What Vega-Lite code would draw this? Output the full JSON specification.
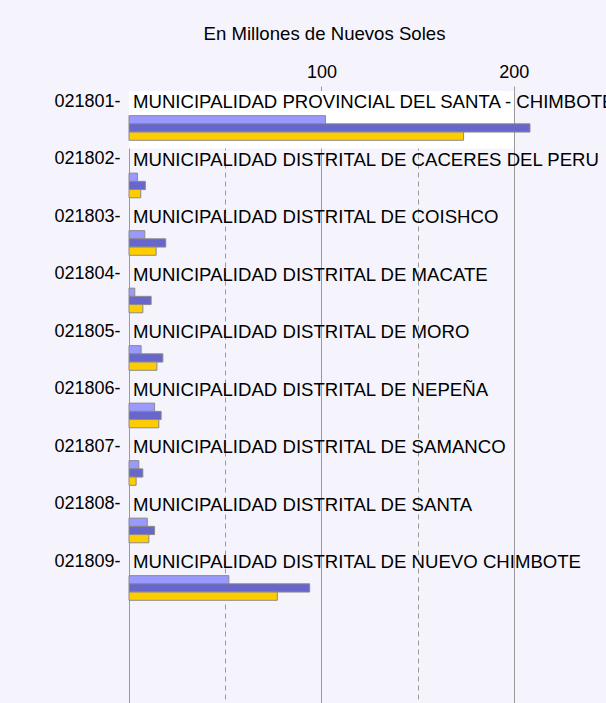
{
  "$schema": "https://vega.github.io/schema/vega-lite/v6.json",
  "autosize": "none",
  "padding": {"left": 129, "top": 91, "right": 0, "bottom": 0},
  "width": 481,
  "height": 620,
  "background": "#f5f4fc",
  "config": {
    "view": {"stroke": null},
    "font": "Liberation Sans",
    "axis": {"labelFont": "Liberation Sans", "titleFont": "Liberation Sans", "labelColor": "#000", "titleColor": "#000"}
  },
  "datasets": {
    "munis": [
      {"code": "021801", "name": "MUNICIPALIDAD PROVINCIAL DEL SANTA - CHIMBOTE", "PIA": 102.1, "PIM": 208.4, "Devengado": 173.9},
      {"code": "021802", "name": "MUNICIPALIDAD DISTRITAL DE CACERES DEL PERU", "PIA": 4.4, "PIM": 8.5, "Devengado": 6.1},
      {"code": "021803", "name": "MUNICIPALIDAD DISTRITAL DE COISHCO", "PIA": 8.2, "PIM": 19.1, "Devengado": 14.1},
      {"code": "021804", "name": "MUNICIPALIDAD DISTRITAL DE MACATE", "PIA": 3.0, "PIM": 11.5, "Devengado": 7.2},
      {"code": "021805", "name": "MUNICIPALIDAD DISTRITAL DE MORO", "PIA": 6.3, "PIM": 17.6, "Devengado": 14.5},
      {"code": "021806", "name": "MUNICIPALIDAD DISTRITAL DE NEPEÑA", "PIA": 13.3, "PIM": 16.7, "Devengado": 15.5},
      {"code": "021807", "name": "MUNICIPALIDAD DISTRITAL DE SAMANCO", "PIA": 5.1, "PIM": 7.2, "Devengado": 3.7},
      {"code": "021808", "name": "MUNICIPALIDAD DISTRITAL DE SANTA", "PIA": 9.5, "PIM": 13.3, "Devengado": 10.3},
      {"code": "021809", "name": "MUNICIPALIDAD DISTRITAL DE NUEVO CHIMBOTE", "PIA": 51.9, "PIM": 93.9, "Devengado": 77.1}
    ],
    "highlight": [
      {"code": "021801", "start": 0, "end": 200}
    ]
  },
  "encoding": {
    "y": {
      "field": "code",
      "type": "nominal",
      "scale": {
        "domain": ["021801", "021802", "021803", "021804", "021805", "021806", "021807", "021808", "021809"],
        "paddingInner": 0,
        "paddingOuter": 0.8913,
        "align": 0
      },
      "axis": {
        "orient": "left",
        "title": null,
        "labelExpr": "datum.label + '-'",
        "labelFontSize": 18,
        "labelPadding": 9,
        "ticks": false,
        "domain": false,
        "grid": false,
        "labelOffset": -18,
        "labelBaseline": "middle"
      }
    }
  },
  "layer": [
    {
      "data": {"name": "highlight"},
      "mark": {"type": "rect", "fill": "#ffffff"},
      "encoding": {
        "x": {
          "field": "start",
          "type": "quantitative",
          "scale": {"domain": [0, 250], "nice": false},
          "axis": {
            "orient": "top",
            "title": "En Millones de Nuevos Soles",
            "titleFontSize": 18.6,
            "titleFontWeight": "normal",
            "titlePadding": 20,
            "titleX": 195,
            "titleAlign": "center",
            "titleAnchor": "start",
            "values": [0, 50, 100, 150, 200, 250],
            "labelExpr": "datum.value == 100 || datum.value == 200 ? datum.label : ''",
            "labelFontSize": 18,
            "labelPadding": 5,
            "labelOverlap": false,
            "domain": false,
            "grid": true,
            "gridColor": "#9a9a9a",
            "gridDash": {"condition": {"test": "datum.value == 50 || datum.value == 150", "value": [5, 4]}, "value": []},
            "tickSize": 5,
            "tickColor": "#9a9a9a",
            "tickOpacity": {"condition": {"test": "datum.value == 100 || datum.value == 200", "value": 1}, "value": 0}
          }
        },
        "x2": {"field": "end"}
      }
    },
    {
      "data": {"name": "munis"},
      "transform": [{"fold": ["PIA", "PIM", "Devengado"], "as": ["serie", "monto"]}],
      "mark": {"type": "bar", "stroke": "#8a8a8a", "strokeWidth": 1},
      "encoding": {
        "x": {"field": "monto", "type": "quantitative"},
        "yOffset": {
          "field": "serie",
          "scale": {"domain": ["s1", "s2", "s3", "PIA", "PIM", "Devengado", "s4"], "paddingInner": 0, "paddingOuter": 0}
        },
        "color": {
          "field": "serie",
          "scale": {"domain": ["PIA", "PIM", "Devengado"], "range": ["#9999ff", "#6666cc", "#ffcc00"]},
          "legend": null
        }
      }
    },
    {
      "data": {"name": "munis"},
      "mark": {"type": "text", "align": "left", "baseline": "middle", "dx": 4, "dy": 11, "fontSize": 18.6, "font": "Liberation Sans", "color": "#000"},
      "encoding": {
        "x": {"datum": 0, "type": "quantitative"},
        "y": {"field": "code", "type": "nominal", "bandPosition": 0},
        "text": {"field": "name"}
      }
    }
  ]
}
